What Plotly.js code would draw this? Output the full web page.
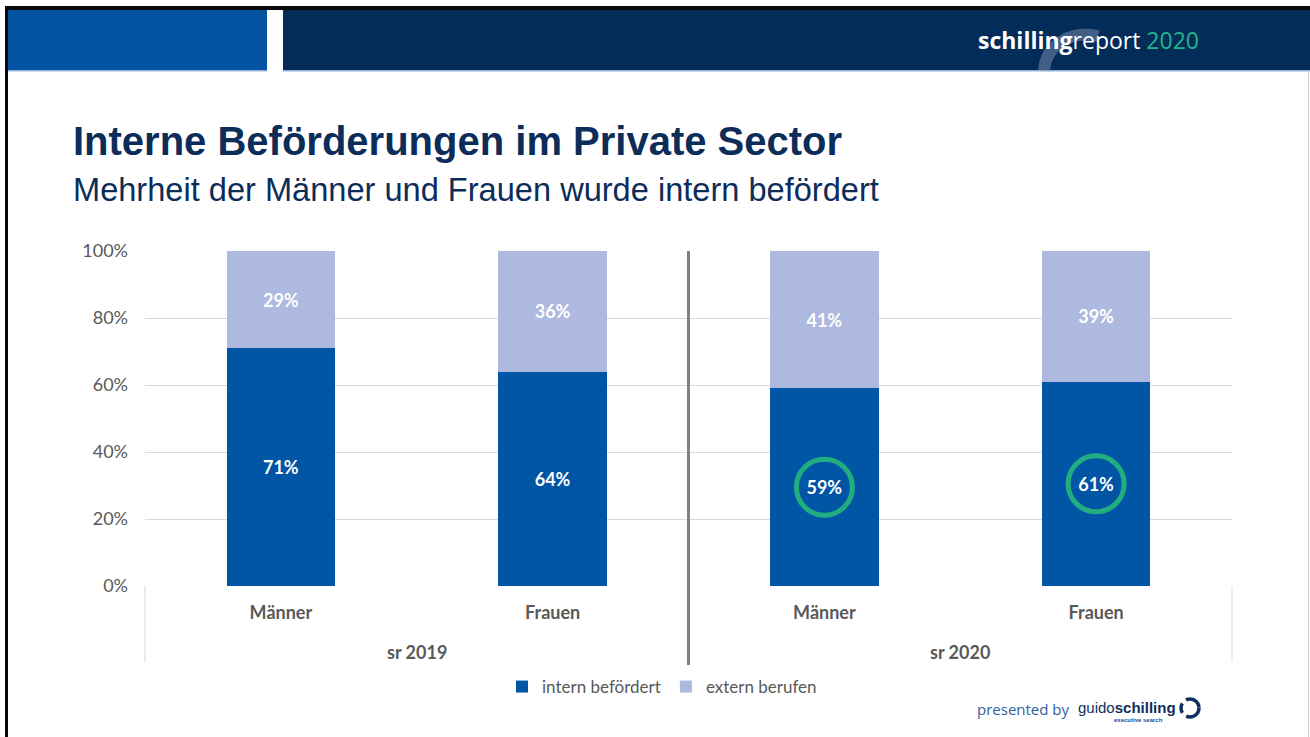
<!DOCTYPE html>
<html>
<head>
<meta charset="utf-8">
<script src="https://cdn.plot.ly/plotly-3.0.1.min.js"></script>
<style>
html,body{margin:0;padding:0;background:#fff;}
#chart{width:1310px;height:737px;}
</style>
</head>
<body>
<div id="chart"></div>
<script>
// ---- data ----
const groups = ["sr 2019", "sr 2019", "sr 2020", "sr 2020"];
const genders = ["Männer", "Frauen", "Männer", "Frauen"];
const internBefoerdert = [71, 64, 59, 61];
const externBerufen = [29, 36, 41, 39];
const highlighted = [false, false, true, true];
const seriesNames = ["intern befördert", "extern berufen"];
const titleText = "Interne Beförderungen im Private Sector";
const subtitleText = "Mehrheit der Männer und Frauen wurde intern befördert";

// ---- geometry helpers (page pixels -> paper coords) ----
const W = 1310, H = 737;
const PL = 145, PR = 1232, PT = 251, PB = 586;
const fx = p => (p - PL) / (PR - PL);
const fy = p => (PB - p) / (PB - PT);

const labelFont = {family: "Lato, 'Open Sans', sans-serif", color: "#595959"};

// unique category keys, shown with gender tick labels
const keys = groups.map((g, i) => g + " | " + genders[i]);
const n = keys.length;

const hlX = [], hlY = [];
highlighted.forEach((h, i) => { if (h) { hlX.push(keys[i]); hlY.push(internBefoerdert[i] / 2); } });

const traces = [
  {
    type: "bar", name: seriesNames[0],
    x: keys, y: internBefoerdert, text: internBefoerdert,
    marker: {color: "#0055a4"}, width: 0.4,
    texttemplate: "%{text}%", textposition: "inside", insidetextanchor: "middle",
    textfont: {family: "Lato, sans-serif", size: 18, color: "#ffffff", weight: "bold"},
    hoverinfo: "skip"
  },
  {
    type: "bar", name: seriesNames[1],
    x: keys, y: externBerufen, text: externBerufen,
    marker: {color: "#adb9de"}, width: 0.4,
    texttemplate: "%{text}%", textposition: "inside", insidetextanchor: "middle",
    textfont: {family: "Lato, sans-serif", size: 18, color: "#ffffff", weight: "bold"},
    hoverinfo: "skip"
  },
  {
    type: "scatter", mode: "markers", showlegend: false,
    x: hlX, y: hlY,
    marker: {symbol: "circle-open", size: 56, color: "#22ad80", line: {width: 5, color: "#22ad80"}},
    hoverinfo: "skip"
  }
];

// group labels and dividers derived from the category order
const uniqueGroups = [...new Set(groups)];
const groupAnn = uniqueGroups.map(g => {
  const idx = groups.map((x, i) => x === g ? i : -1).filter(i => i >= 0);
  const mid = (idx[0] + idx[idx.length - 1]) / 2;
  return {xref: "paper", yref: "paper", x: (mid + 0.5) / n, y: fy(652), xanchor: "center", yanchor: "middle",
          showarrow: false, text: "<b>" + g + "</b>", font: Object.assign({size: 18}, labelFont)};
});
const boundaries = [0];
groups.forEach((g, i) => { if (i > 0 && g !== groups[i - 1]) boundaries.push(i / n); });
boundaries.push(1);

const shapes = [
  // top black frame line and left frame line
  {type: "rect", xref: "paper", yref: "paper", x0: fx(5), x1: fx(1310), y0: fy(6), y1: fy(10), fillcolor: "#0a0a0a", line: {width: 0}, layer: "above"},
  {type: "rect", xref: "paper", yref: "paper", x0: fx(5), x1: fx(8), y0: fy(6), y1: fy(737), fillcolor: "#0a0a0a", line: {width: 0}, layer: "above"},
  {type: "line", xref: "paper", yref: "paper", x0: fx(1308.5), x1: fx(1308.5), y0: fy(10), y1: fy(737), line: {width: 1, color: "#cfcfcf"}},
  // header blocks
  {type: "rect", xref: "paper", yref: "paper", x0: fx(8), x1: fx(267), y0: fy(10), y1: fy(70), fillcolor: "#0254a3", line: {width: 0}},
  {type: "rect", xref: "paper", yref: "paper", x0: fx(283), x1: fx(1310), y0: fy(10), y1: fy(70), fillcolor: "#042c59", line: {width: 0}},
  {type: "rect", xref: "paper", yref: "paper", x0: fx(8), x1: fx(267), y0: fy(70), y1: fy(71.5), fillcolor: "#8fb3dc", line: {width: 0}},
  {type: "rect", xref: "paper", yref: "paper", x0: fx(283), x1: fx(1310), y0: fy(70), y1: fy(71.5), fillcolor: "#8fb3dc", line: {width: 0}},
  // faint arc in header
  {type: "path", xref: "paper", yref: "paper",
   path: `M ${fx(1044)},${fy(71)} C ${fx(1046)},${fy(44)} ${fx(1072)},${fy(30)} ${fx(1098)},${fy(36)}`,
   line: {color: "rgba(140,155,185,0.45)", width: 12}},
  // logo ring
  {type: "circle", xref: "paper", yref: "paper", x0: fx(1181), x1: fx(1199), y0: fy(699), y1: fy(717),
   line: {width: 3.5, color: "#0d2f5c", dash: "18px,5px,10px,5px"}}
];
boundaries.forEach(b => {
  const inner = b > 0 && b < 1;
  shapes.push({type: "line", xref: "paper", yref: "paper", x0: b, x1: b,
    y0: inner ? 1 : 0, y1: fy(inner ? 665 : 662),
    line: {width: inner ? 3 : 1, color: inner ? "#808080" : "#d9d9d9"}});
});

const annotations = [
  {xref: "paper", yref: "paper", x: fx(71), y: fy(141), xanchor: "left", yanchor: "middle", showarrow: false,
   text: "<b>" + titleText + "</b>", font: {family: "'Liberation Sans', Arial, sans-serif", size: 40, color: "#0c2d5a"}},
  {xref: "paper", yref: "paper", x: fx(71), y: fy(189), xanchor: "left", yanchor: "middle", showarrow: false,
   text: subtitleText, font: {family: "'Liberation Sans', Arial, sans-serif", size: 32.6, color: "#0c2d5a"}},
  {xref: "paper", yref: "paper", x: fx(976), y: fy(40), xanchor: "left", yanchor: "middle", showarrow: false,
   text: "<b>schilling</b>report <span style='color:#22b58b'>2020</span>",
   font: {family: "'Open Sans', sans-serif", size: 23, color: "#ffffff"}},
  {xref: "paper", yref: "paper", x: fx(975), y: fy(709), xanchor: "left", yanchor: "middle", showarrow: false,
   text: "presented by", font: {family: "'Open Sans', sans-serif", size: 15, color: "#2f5f9e"}},
  {xref: "paper", yref: "paper", x: fx(1076), y: fy(707), xanchor: "left", yanchor: "middle", showarrow: false,
   text: "guido<b>schilling</b>",
   font: {family: "'Liberation Sans Narrow', 'Liberation Sans', sans-serif", size: 15, color: "#0d2f5c"}},
  {xref: "paper", yref: "paper", x: fx(1165), y: fy(720), xanchor: "right", yanchor: "middle", showarrow: false,
   text: "<b>executive search</b>", font: {family: "'Liberation Sans', sans-serif", size: 6, color: "#1a4fa0"}}
].concat(groupAnn);

const layout = {
  width: W, height: H,
  margin: {l: PL, r: W - PR, t: PT, b: H - PB, pad: 0},
  paper_bgcolor: "#ffffff", plot_bgcolor: "#ffffff",
  barmode: "stack",
  showlegend: true,
  legend: {orientation: "h", x: fx(662), y: fy(687), xanchor: "center", yanchor: "middle",
           font: Object.assign({size: 17}, labelFont), itemwidth: 30, traceorder: "normal"},
  xaxis: {
    type: "category", categoryorder: "array", categoryarray: keys,
    tickmode: "array", tickvals: keys, ticktext: genders,
    tickfont: Object.assign({size: 18, weight: "bold"}, labelFont),
    ticklabelstandoff: 14,
    showgrid: false, zeroline: false, showline: false, ticks: "", fixedrange: true
  },
  yaxis: {
    range: [0, 100], dtick: 20, ticksuffix: "%",
    tickfont: Object.assign({size: 18}, labelFont),
    gridcolor: "#d9d9d9", gridwidth: 1, zeroline: false, showline: false,
    ticklabelstandoff: 16, fixedrange: true
  },
  shapes: shapes,
  annotations: annotations,
  hovermode: false
};

Plotly.newPlot("chart", traces, layout, {displayModeBar: false, staticPlot: true});
</script>
</body>
</html>
